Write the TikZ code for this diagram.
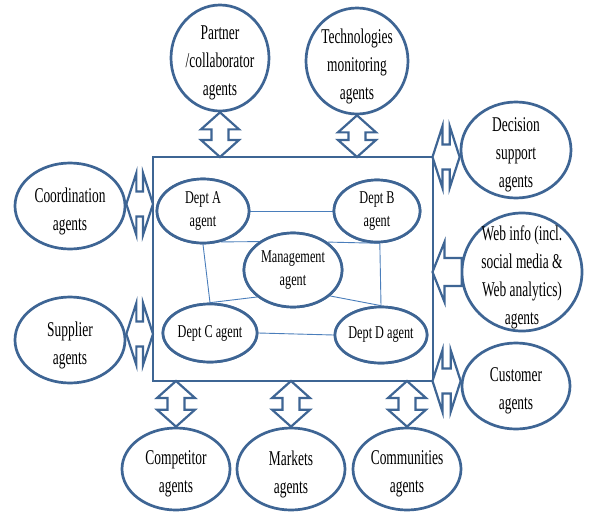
\documentclass[tikz,border=0pt]{standalone}
\usepackage{fontspec}
\setmainfont{Liberation Serif}[FakeStretch=0.64]
\newfontfamily\innerfont{Liberation Serif}[FakeStretch=0.68]
\usetikzlibrary{shapes.geometric,calc}
\definecolor{edgeblue}{HTML}{3E6594}
\definecolor{linkblue}{HTML}{4A7EBB}
\tikzset{
  agent/.style={ellipse, draw=edgeblue, line width=2.7pt, fill=white, inner sep=0pt},
  outtxt/.style={align=center, font=\fontsize{21}{28}\selectfont, inner sep=0pt, yshift=-5pt},
  intxt/.style={align=center, font=\innerfont\fontsize{18}{22.5}\selectfont, inner sep=0pt},
  blockarrow/.style={draw=edgeblue, line width=2.2pt, fill=white, line join=miter},
  linkline/.style={draw=linkblue, line width=0.9pt},
}
\newcommand\vdbl[2]{\draw[blockarrow] let \p1=(#1), \p2=(#2) in
  (\x1,\y1) -- (\x1+19pt,\y1-17pt) -- (\x1+8.5pt,\y1-17pt) -- (\x1+8.5pt,\y2+17pt)
  -- (\x1+19pt,\y2+17pt) -- (\x1,\y2) -- (\x1-19pt,\y2+17pt) -- (\x1-8.5pt,\y2+17pt)
  -- (\x1-8.5pt,\y1-17pt) -- (\x1-19pt,\y1-17pt) -- cycle;}
\newcommand\hdbl[2]{\draw[blockarrow] let \p1=(#1), \p2=(#2) in
  (\x1,\y1) -- (\x1+10pt,\y1+31pt) -- (\x1+10pt,\y1+12.5pt) -- (\x2-10pt,\y1+12.5pt)
  -- (\x2-10pt,\y1+31pt) -- (\x2,\y1) -- (\x2-10pt,\y1-31pt) -- (\x2-10pt,\y1-12.5pt)
  -- (\x1+10pt,\y1-12.5pt) -- (\x1+10pt,\y1-31pt) -- cycle;}
\newcommand\hsgl[2]{\draw[blockarrow] let \p1=(#1), \p2=(#2) in
  (\x1,\y1) -- (\x1+12pt,\y1+30pt) -- (\x1+12pt,\y1+14pt) -- (\x2,\y1+14pt)
  -- (\x2,\y1-14pt) -- (\x1+12pt,\y1-14pt) -- (\x1+12pt,\y1-30pt) -- cycle;}
\begin{document}
\begin{tikzpicture}[x=1pt,y=-1pt]
\useasboundingbox[fill=white] (0,0) rectangle (595,512);

% main box
\node[draw=edgeblue, line width=2pt, minimum width=279.5, minimum height=224,
      inner sep=0pt, outer sep=0pt] (box) at (292.75,269) {};

% inner agents
\node[agent, minimum width=92, minimum height=64] (A) at (203,211) {};
\node[agent, minimum width=86, minimum height=62] (B) at (377,211) {};
\node[agent, minimum width=98, minimum height=74] (M) at (293,270) {};
\node[agent, minimum width=94, minimum height=58] (C) at (210,333) {};
\node[agent, minimum width=92, minimum height=56] (D) at (381,335) {};

% links
\path[linkline] (A.east) -- (B.west);
\path[linkline] (A.south) -- (C.north);
\path[linkline] (B.-85) -- (D.north);
\path[linkline] (A.-60) -- (M.140);
\path[linkline] (M.39) -- (B.-85);
\path[linkline] (C.north) -- (M.-143);
\path[linkline] (M.-35) -- (D.north);
\path[linkline] (C.east) -- (D.west);

% inner ellipses on top of links, with texts
\node[agent, minimum width=92, minimum height=64,
      label={[intxt]center:{Dept A\\agent}}] at (A) {};
\node[agent, minimum width=86, minimum height=62,
      label={[intxt]center:{Dept B\\agent}}] at (B) {};
\node[agent, minimum width=98, minimum height=74,
      label={[intxt]center:{Management\\agent}}] at (M) {};
\node[agent, minimum width=94, minimum height=58,
      label={[intxt]center:{Dept C agent}}] at (C) {};
\node[agent, minimum width=92, minimum height=56,
      label={[intxt]center:{Dept D agent}}] at (D) {};

% outer agents
\node[agent, minimum width=98, minimum height=106,
      label={[outtxt]center:{Partner\\/collaborator\\agents}}] (partner) at (220,58) {};
\node[agent, minimum width=102, minimum height=106,
      label={[outtxt]center:{Technologies\\monitoring\\agents}}] (tech) at (357,61) {};
\node[agent, minimum width=110, minimum height=96,
      label={[outtxt]center:{Decision\\support\\agents}}] (dec) at (516,150) {};
\node[agent, minimum width=120, minimum height=118,
      label={[outtxt]center:{Web info (incl.\\social media \&\\Web analytics)\\agents}}] (web) at (522,272) {};
\node[agent, minimum width=108, minimum height=86,
      label={[outtxt]center:{Customer\\agents}}] (cust) at (516,386) {};
\node[agent, minimum width=110, minimum height=86,
      label={[outtxt]center:{Coordination\\agents}}] (coord) at (70,206) {};
\node[agent, minimum width=110, minimum height=86,
      label={[outtxt]center:{Supplier\\agents}}] (supp) at (70,340) {};
\node[agent, minimum width=108, minimum height=82,
      label={[outtxt]center:{Competitor\\agents}}] (comp) at (176,469) {};
\node[agent, minimum width=108, minimum height=82,
      label={[outtxt]center:{Markets\\agents}}] (mark) at (291,469) {};
\node[agent, minimum width=108, minimum height=82,
      label={[outtxt]center:{Communities\\agents}}] (comm) at (407,469) {};

% block arrows
\vdbl{partner.south}{partner.south |- box.north}
\vdbl{tech.south}{tech.south |- box.north}
\vdbl{box.south -| comp.north}{comp.north}
\vdbl{box.south -| mark.north}{mark.north}
\vdbl{box.south -| comm.north}{comm.north}
\coordinate (sa) at ([yshift=6pt]supp.east);
\coordinate (ca) at ([yshift=2pt]coord.east);
\hdbl{ca}{ca -| box.west}
\hdbl{sa}{sa -| box.west}
\hdbl{box.north east}{box.north east -| dec.west}
\hdbl{box.south east}{box.south east -| cust.west}
\coordinate (wa) at ([xshift=1pt]web.west);
\hsgl{web.west -| box.east}{wa}
\end{tikzpicture}
\end{document}
